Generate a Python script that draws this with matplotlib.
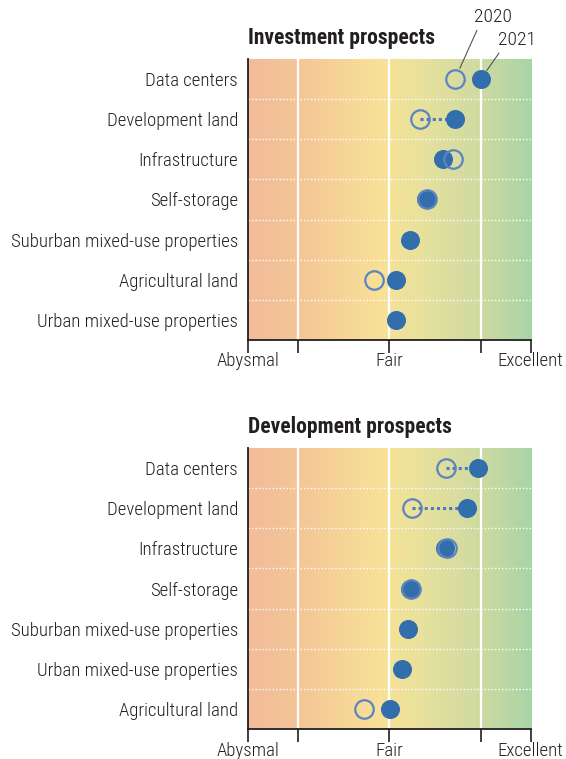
import numpy as np
import matplotlib
matplotlib.use("Agg")
import matplotlib.pyplot as plt
from matplotlib.colors import LinearSegmentedColormap

plt.rcParams['font.family'] = ['Roboto Condensed', 'Liberation Sans Narrow', 'DejaVu Sans']

# ---------------- data ----------------
nan = float("nan")
inv_categories = ["Data centers", "Development land", "Infrastructure", "Self-storage",
                  "Suburban mixed-use properties", "Agricultural land", "Urban mixed-use properties"]
inv_2020 = [6.86, 5.87, 6.80, 6.06, nan, 4.57, nan]
inv_2021 = [7.59, 6.86, 6.51, 6.04, 5.60, 5.18, 5.18]

dev_categories = ["Data centers", "Development land", "Infrastructure", "Self-storage",
                  "Suburban mixed-use properties", "Urban mixed-use properties", "Agricultural land"]
dev_2020 = [6.60, 5.65, 6.63, 5.62, nan, nan, 4.29]
dev_2021 = [7.50, 7.20, 6.58, 5.60, 5.54, 5.35, 5.02]

tick_values = [1, 2.41, 5, 7.59, 9]
tick_labels = ["Abysmal", "", "Fair", "", "Excellent"]
grid_values = [2.41, 5, 7.59]
series_labels = ["2020", "2021"]
titles = ["Investment prospects", "Development prospects"]

# ---------------- style ----------------
FILL = "#326EAB"
RING = "#5C84C1"
TXT = "#231F20"
W, H = 566, 759
fig = plt.figure(figsize=(W / 100, H / 100), dpi=100)

grad = LinearSegmentedColormap.from_list(
    "bg", [(0.0, "#F2BC99"), (0.18, "#F4C698"), (0.47, "#F8E197"),
           (0.62, "#E7E19D"), (0.82, "#CEDAA2"), (1.0, "#A8D5A6")])

axes_px = [(247.7, 59, 530.7, 340), (247.7, 447.7, 530.7, 729.3)]


def make_panel(box, cats, v2020, v2021, title, annotate=False):
    x0, y0, x1, y1 = box
    ax = fig.add_axes([x0 / W, 1 - y1 / H, (x1 - x0) / W, (y1 - y0) / H])
    n = len(cats)
    ax.set_xlim(tick_values[0], tick_values[-1])
    ax.set_ylim(n - 0.5, -0.5)
    ax.imshow(np.linspace(0, 1, 256)[None, :], cmap=grad, aspect="auto",
              extent=[tick_values[0], tick_values[-1], n - 0.5, -0.5], zorder=0)
    for g in grid_values:
        ax.axvline(g, color="white", lw=1.6, zorder=1)
    for k in range(n - 1):
        ax.axhline(k + 0.5, color="white", lw=1.0, ls=(0, (1, 1.5)), zorder=1)
    ys = np.arange(n)
    for y, a, b in zip(ys, v2020, v2021):
        if np.isfinite(a) and abs(b - a) > 0.8:
            ax.plot([a, b], [y, y], color="#4D7AB9", lw=2.2, ls=(0, (1, 1)), zorder=2)
    ax.plot(v2021, ys, "o", ms=13.7, color=FILL, mec=FILL, mew=0, ls="none", zorder=3)
    ax.plot(v2020, ys, "o", ms=13.3, mfc="none", mec=RING, mew=1.6, ls="none", zorder=4)

    ax.set_yticks(ys)
    ax.set_yticklabels(cats, fontsize=13.5, color=TXT, fontweight="light")
    ax.tick_params(axis="y", length=0, pad=7)
    ax.set_xticks(tick_values)
    ax.set_xticklabels(tick_labels, fontsize=13.5, color=TXT, fontweight="light")
    ax.tick_params(axis="x", length=9, width=1.2, color=TXT, pad=0)
    for s in ["top", "right"]:
        ax.spines[s].set_visible(False)
    for s in ["left", "bottom"]:
        ax.spines[s].set_color(TXT)
        ax.spines[s].set_linewidth(1.3)
    ax.text(0, 1.035, title, transform=ax.transAxes, fontsize=15.5, fontweight="bold",
            color=TXT, ha="left", va="bottom")

    if annotate:
        ax.annotate(series_labels[0], xy=(v2020[0], 0), xytext=(27.5, 44.5),
                    textcoords="offset points", ha="center", va="center",
                    fontsize=14, color=TXT, fontweight="light",
                    arrowprops=dict(arrowstyle="-", color="#555555", lw=0.8,
                                    shrinkA=1, shrinkB=8.5, relpos=(0.12, 0)))
        ax.annotate(series_labels[1], xy=(v2021[0], 0), xytext=(26, 28),
                    textcoords="offset points", ha="center", va="center",
                    fontsize=14, color=TXT, fontweight="light",
                    arrowprops=dict(arrowstyle="-", color="#555555", lw=0.8,
                                    shrinkA=1, shrinkB=7.5, relpos=(0.1, 0)))
    return ax


make_panel(axes_px[0], inv_categories, inv_2020, inv_2021, titles[0], annotate=True)
make_panel(axes_px[1], dev_categories, dev_2020, dev_2021, titles[1])

fig.savefig("out.png", dpi=100)
